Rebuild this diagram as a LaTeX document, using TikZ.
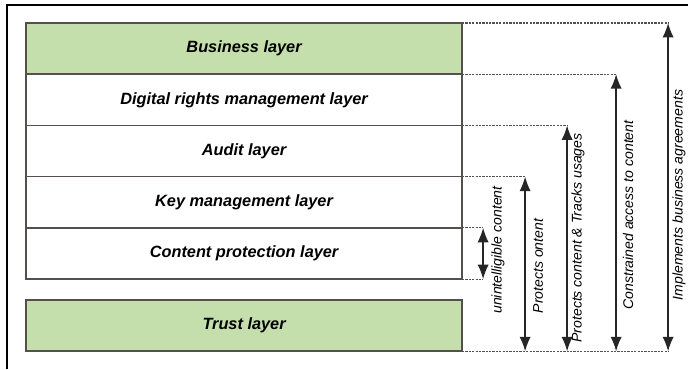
\documentclass[tikz,border=0pt]{standalone}
\usepackage{fontspec}
\setmainfont{Liberation Sans}
\usetikzlibrary{arrows.meta}
\usetikzlibrary{positioning}

\definecolor{layergreen}{RGB}{197,223,172}
\definecolor{edgegray}{RGB}{85,80,78}

\tikzset{
  layer/.style={draw=edgegray, line width=1.2pt, outer sep=0pt, inner sep=0pt,
    minimum width=10.9cm, minimum height=1.28cm,
    font=\fontsize{11.6}{14}\selectfont\bfseries\itshape},
  guide/.style={edgegray, line width=.8pt, dash pattern=on 1.6pt off .8pt},
  span/.style={black!85, line width=1pt, {Latex[length=3.6mm,width=2.8mm]}-{Latex[length=3.6mm,width=2.8mm]}},
  spanlabel/.style={rotate=90, inner sep=0pt, font=\fontsize{10}{12}\selectfont\itshape}
}

\begin{document}
\begin{tikzpicture}[x=0.025cm, y=-0.025cm]
\useasboundingbox (0,0) rectangle (688,369);
\draw[line width=1pt] (7,369) -- (7,5) -- (688,5);

% stack of layers
\node[layer, fill=layergreen, anchor=north west] (biz) at (26,23) {Business layer};
\node[layer, below=0pt of biz] (drm) {Digital rights management layer};
\node[layer, below=0pt of drm] (aud) {Audit layer};
\node[layer, below=0pt of aud] (key) {Key management layer};
\node[layer, below=0pt of key] (cp) {Content protection layer};
\node[layer, fill=layergreen, below=.525cm of cp] (trust) {Trust layer};

\coordinate (base) at (trust.south east);

% long spans down to the trust layer
\foreach \lay/\dx/\tx/\ty/\txt in {
  biz/206/679/195/Implements business agreements,
  drm/154/628/215/Constrained access to content,
  aud/105/578/238/Protects content \& Tracks usages,
  key/63/538/266/Protects ontent}
{
  \path (base) ++(\dx,0) coordinate (\lay-bot);
  \coordinate (\lay-top) at (\lay-bot |- \lay.north east);
  \draw[guide] (\lay.north east) -- (\lay-top);
  \draw[span] (\lay-bot) -- (\lay-top);
  \node[spanlabel] (\lay-note) at (\tx,\ty) {\txt};
}
\draw[guide] (base) -- (biz-bot);

% short span over the content protection layer
\path (cp.north east) ++(21,0) coordinate (cp-top);
\path (cp.south east) ++(21,0) coordinate (cp-bot);
\draw[guide] (cp.north east) -- (cp-top);
\draw[guide] (cp.south east) -- (cp-bot);
\draw[span] (cp-bot) -- (cp-top);
\node[spanlabel] (cp-note) at (498,250) {unintelligible content};

\end{tikzpicture}
\end{document}
